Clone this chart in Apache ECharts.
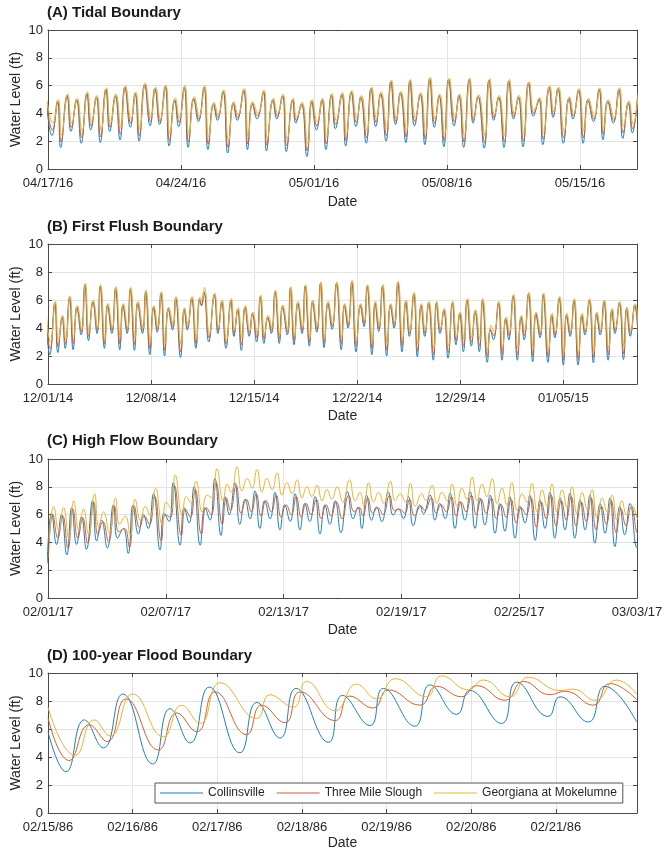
<!DOCTYPE html>
<html>
<head>
<meta charset="utf-8">
<script src="https://cdn.jsdelivr.net/npm/echarts@6/dist/echarts.min.js"></script>
<style>
html,body{margin:0;padding:0;background:#fff;}
#chart{width:665px;height:854px;}
</style>
</head>
<body>
<div id="chart"></div>
<script>
// ---------- stations ----------
const stations = ['Collinsville', 'Three Mile Slough', 'Georgiana at Mokelumne'];

// ---------- x tick labels (one per major tick) ----------
const ticksA = ['04/17/16', '04/24/16', '05/01/16', '05/08/16', '05/15/16'];
const ticksB = ['12/01/14', '12/08/14', '12/15/14', '12/22/14', '12/29/14', '01/05/15'];
const ticksC = ['02/01/17', '02/07/17', '02/13/17', '02/19/17', '02/25/17', '03/03/17'];
const ticksD = ['02/15/86', '02/16/86', '02/17/86', '02/18/86', '02/19/86', '02/20/86', '02/21/86'];

// ---------- (A) Tidal Boundary: tidal highs/lows, hours after 04/17/16 00:00 ----------
const hoursA = [
  -2, 5, 12, 16, 24, 29, 36, 42, 49, 54,
  61, 66, 73, 78, 85, 91, 97, 104, 110, 115,
  122, 129, 135, 141, 148, 153, 160, 165, 172, 177,
  184, 190, 197, 202, 209, 214, 221, 227, 234, 239,
  247, 252, 258, 264, 272, 276, 284, 289, 296, 301,
  309, 313, 320, 327, 333, 339, 346, 351, 358, 363,
  371, 376, 383, 389, 395, 402, 408, 414, 420, 427,
  433, 439, 445, 452, 457, 463, 470, 476, 482, 488,
  494, 500, 506, 513, 519, 525, 532, 537, 543, 551,
  557, 563, 569, 576, 582, 588, 594, 600, 607, 613,
  620, 625, 633, 638, 644, 651, 658, 663, 670, 676,
  682, 689, 696, 701, 707, 714, 721, 726, 733, 738,
  745];
const collinsvilleA = [
  4.8, 2.4, 4.9, 1.55, 5.3, 2.7, 5.0, 1.85, 5.45, 2.8,
  5.2, 1.9, 5.75, 2.7, 5.3, 2.1, 5.9, 3.0, 5.45, 2.0,
  6.1, 3.1, 5.8, 3.2, 5.95, 1.65, 5.0, 3.05, 5.9, 1.55,
  5.1, 3.4, 5.9, 1.4, 4.7, 3.5, 5.6, 1.15, 4.75, 3.5,
  5.7, 1.4, 4.75, 3.6, 5.6, 1.3, 5.0, 3.6, 5.3, 1.25,
  5.0, 3.3, 4.7, 0.9, 4.9, 2.8, 5.0, 1.4, 5.35, 2.9,
  5.4, 1.65, 5.55, 3.05, 5.2, 1.85, 5.8, 3.05, 5.45, 2.0,
  6.3, 3.2, 5.5, 1.9, 6.35, 3.1, 5.4, 1.75, 6.5, 3.0,
  5.3, 1.6, 6.45, 3.1, 5.3, 1.55, 6.45, 3.3, 5.25, 1.5,
  6.4, 3.5, 5.2, 1.55, 6.35, 3.6, 5.2, 1.6, 6.2, 3.8,
  5.05, 1.75, 5.9, 3.7, 5.8, 1.85, 5.1, 3.6, 5.7, 1.85,
  5.0, 3.4, 5.75, 2.1, 4.9, 3.3, 5.75, 2.2, 4.8, 2.6,
  5.5];
const threeMileA = [
  4.7, 2.8, 4.8, 1.95, 5.2, 3.0, 4.9, 2.25, 5.35, 3.1,
  5.1, 2.3, 5.65, 3.0, 5.2, 2.5, 5.8, 3.3, 5.35, 2.4,
  6.0, 3.4, 5.7, 3.4, 5.85, 2.05, 4.9, 3.35, 5.8, 1.95,
  5.0, 3.6, 5.8, 1.8, 4.6, 3.7, 5.5, 1.55, 4.65, 3.7,
  5.6, 1.8, 4.65, 3.8, 5.5, 1.7, 4.9, 3.8, 5.2, 1.65,
  4.9, 3.5, 4.6, 1.3, 4.8, 3.1, 4.9, 1.8, 5.25, 3.2,
  5.3, 2.05, 5.45, 3.35, 5.1, 2.25, 5.7, 3.35, 5.35, 2.4,
  6.2, 3.4, 5.4, 2.3, 6.25, 3.4, 5.3, 2.15, 6.4, 3.3,
  5.2, 2.0, 6.35, 3.4, 5.2, 1.95, 6.35, 3.5, 5.15, 1.9,
  6.3, 3.7, 5.1, 1.95, 6.25, 3.8, 5.1, 2.0, 6.1, 4.0,
  4.95, 2.15, 5.8, 3.9, 5.7, 2.25, 5.0, 3.8, 5.6, 2.25,
  4.9, 3.6, 5.65, 2.5, 4.8, 3.5, 5.65, 2.6, 4.7, 2.9,
  5.4];
const georgianaA = [
  4.9, 3.3, 5.0, 2.45, 5.4, 3.3, 5.1, 2.75, 5.55, 3.4,
  5.3, 2.8, 5.85, 3.3, 5.4, 3.0, 6.0, 3.6, 5.55, 2.9,
  6.2, 3.7, 5.9, 3.6, 6.05, 2.55, 5.1, 3.65, 6.0, 2.45,
  5.2, 3.8, 6.0, 2.3, 4.8, 3.9, 5.7, 2.05, 4.85, 3.9,
  5.8, 2.3, 4.85, 4.0, 5.7, 2.2, 5.1, 4.0, 5.4, 2.15,
  5.1, 3.7, 4.8, 1.8, 5.0, 3.4, 5.1, 2.3, 5.45, 3.5,
  5.5, 2.55, 5.65, 3.65, 5.3, 2.75, 5.9, 3.65, 5.55, 2.9,
  6.4, 3.6, 5.6, 2.8, 6.45, 3.7, 5.5, 2.65, 6.6, 3.6,
  5.4, 2.5, 6.55, 3.7, 5.4, 2.45, 6.55, 3.7, 5.35, 2.4,
  6.5, 3.9, 5.3, 2.45, 6.45, 4.0, 5.3, 2.5, 6.3, 4.2,
  5.15, 2.65, 6.0, 4.1, 5.9, 2.75, 5.2, 4.0, 5.8, 2.75,
  5.1, 3.8, 5.85, 3.0, 5.0, 3.7, 5.85, 3.1, 4.9, 3.2,
  5.6];
const lagA = [0, 0.5, 1];

// ---------- (B) First Flush Boundary: hours after 12/01/14 00:00 ----------
const hoursB = [
  -4, 3, 11, 16, 23, 28, 35, 41, 47, 54,
  60, 66, 73, 80, 85, 92, 97, 104, 110, 117,
  122, 129, 134, 141, 146, 154, 159, 166, 172, 178,
  184, 190, 196, 203, 208, 216, 222, 227, 234, 241,
  247, 250, 254, 262, 271, 277, 283, 290, 298, 303,
  309, 315, 321, 328, 333, 340, 346, 352, 358, 364,
  370, 377, 382, 390, 395, 401, 407, 414, 419, 426,
  431, 438, 444, 450, 456, 463, 470, 478, 483, 489,
  495, 502, 509, 515, 520, 528, 533, 539, 545, 552,
  558, 564, 570, 577, 583, 589, 596, 602, 608, 614,
  620, 628, 633, 639, 645, 652, 659, 665, 671, 677,
  683, 690, 696, 703, 708, 716, 721, 726, 734, 740,
  746, 751, 758, 765, 771, 776, 783, 790, 795, 802,
  807, 815, 821, 826, 833, 840, 845, 851, 857, 864,
  870, 875, 882, 889, 894, 900, 906, 913, 919, 924,
  931, 938, 943, 949, 956, 963];
const collinsvilleB = [
  5.0, 2.1, 5.8, 2.25, 4.8, 2.55, 6.2, 2.45, 5.5, 3.5,
  7.1, 3.1, 5.9, 3.6, 7.0, 2.55, 5.65, 3.6, 6.85, 2.45,
  5.65, 3.6, 6.8, 2.4, 5.8, 3.6, 6.6, 2.1, 5.5, 3.7,
  6.5, 2.0, 5.4, 3.85, 6.15, 1.9, 5.35, 3.85, 6.15, 2.55,
  6.1, 5.6, 6.6, 3.0, 6.4, 3.6, 5.9, 2.55, 6.0, 3.4,
  5.35, 2.4, 5.5, 3.4, 5.05, 3.0, 6.25, 2.9, 4.8, 3.6,
  6.6, 2.9, 5.55, 3.5, 6.85, 2.8, 5.8, 3.6, 7.0, 2.7,
  5.9, 3.7, 7.2, 2.6, 5.8, 3.9, 7.2, 2.45, 5.65, 4.0,
  7.3, 2.3, 5.65, 4.1, 7.0, 2.1, 5.8, 3.75, 7.0, 2.0,
  5.65, 4.0, 7.25, 2.3, 5.9, 3.4, 6.45, 1.95, 5.65, 3.4,
  5.8, 1.7, 5.8, 3.6, 5.3, 1.85, 5.8, 2.8, 5.05, 2.3,
  6.0, 2.7, 5.2, 2.3, 6.0, 1.55, 3.9, 3.15, 5.8, 1.7,
  4.7, 3.15, 6.3, 1.7, 4.8, 3.15, 6.45, 1.6, 5.05, 3.3,
  6.4, 1.55, 4.95, 3.3, 6.15, 1.35, 4.95, 3.4, 6.0, 1.35,
  4.95, 3.5, 6.0, 1.5, 5.05, 3.5, 5.9, 1.7, 5.3, 3.6,
  5.8, 1.75, 5.4, 3.4, 5.65, 2.1];
const threeMileB = [
  4.9, 2.5, 5.7, 2.65, 4.7, 2.85, 6.1, 2.85, 5.4, 3.7,
  7.0, 3.4, 5.8, 3.8, 6.9, 2.85, 5.55, 3.8, 6.75, 2.85,
  5.55, 3.8, 6.7, 2.8, 5.7, 3.8, 6.5, 2.5, 5.4, 3.9,
  6.4, 2.4, 5.3, 4.05, 6.05, 2.3, 5.25, 4.05, 6.05, 2.85,
  6.0, 5.6, 6.5, 3.3, 6.3, 3.8, 5.8, 2.85, 5.9, 3.6,
  5.25, 2.8, 5.4, 3.6, 4.95, 3.3, 6.15, 3.2, 4.7, 3.8,
  6.5, 3.2, 5.45, 3.7, 6.75, 3.1, 5.7, 3.8, 6.9, 3.0,
  5.8, 3.9, 7.1, 2.9, 5.7, 4.1, 7.1, 2.85, 5.55, 4.2,
  7.2, 2.7, 5.55, 4.3, 6.9, 2.5, 5.7, 3.95, 6.9, 2.4,
  5.55, 4.2, 7.15, 2.7, 5.8, 3.6, 6.35, 2.35, 5.55, 3.6,
  5.7, 2.1, 5.7, 3.8, 5.2, 2.25, 5.7, 3.1, 4.95, 2.7,
  5.9, 3.0, 5.1, 2.7, 5.9, 1.95, 3.9, 3.45, 5.7, 2.1,
  4.6, 3.45, 6.2, 2.1, 4.7, 3.45, 6.35, 2.0, 4.95, 3.5,
  6.3, 1.95, 4.85, 3.5, 6.05, 1.75, 4.85, 3.6, 5.9, 1.75,
  4.85, 3.7, 5.9, 1.9, 4.95, 3.7, 5.8, 2.1, 5.2, 3.8,
  5.7, 2.15, 5.3, 3.6, 5.55, 2.5];
const georgianaB = [
  5.1, 3.0, 5.9, 3.15, 4.9, 3.15, 6.3, 3.35, 5.6, 3.9,
  7.2, 3.7, 6.0, 4.0, 7.1, 3.15, 5.75, 4.0, 6.95, 3.35,
  5.75, 4.0, 6.9, 3.3, 5.9, 4.0, 6.7, 3.0, 5.6, 4.1,
  6.6, 2.9, 5.5, 4.25, 6.25, 2.8, 5.45, 4.25, 6.25, 3.15,
  6.2, 6.0, 6.9, 3.6, 6.5, 4.0, 6.0, 3.15, 6.1, 3.8,
  5.45, 3.3, 5.6, 3.8, 5.15, 3.6, 6.35, 3.5, 4.9, 4.0,
  6.7, 3.5, 5.65, 3.9, 6.95, 3.4, 5.9, 4.0, 7.1, 3.3,
  6.0, 4.1, 7.3, 3.2, 5.9, 4.3, 7.3, 3.35, 5.75, 4.4,
  7.4, 3.2, 5.75, 4.5, 7.1, 3.0, 5.9, 4.15, 7.1, 2.9,
  5.75, 4.4, 7.35, 3.2, 6.0, 3.8, 6.55, 2.85, 5.75, 3.8,
  5.9, 2.6, 5.9, 4.0, 5.4, 2.75, 5.9, 3.4, 5.15, 3.2,
  6.1, 3.3, 5.3, 3.2, 6.1, 2.45, 4.2, 3.75, 5.9, 2.6,
  4.8, 3.75, 6.4, 2.6, 4.9, 3.75, 6.55, 2.5, 5.15, 3.7,
  6.5, 2.45, 5.05, 3.7, 6.25, 2.25, 5.05, 3.8, 6.1, 2.25,
  5.05, 3.9, 6.1, 2.4, 5.15, 3.9, 6.0, 2.6, 5.4, 4.0,
  5.9, 2.65, 5.5, 3.8, 5.75, 3.0];
const lagB = [0, 0.5, 1];

// ---------- (C) High Flow Boundary: hours after 02/01/17 00:00 ----------
const hoursC = [
  -1,
  4.5, 10.5, 16.5, 23, 29, 35, 41, 47, 54.5, 59.5,
  65.5, 72.5, 80, 85, 92, 98, 104, 110.5, 116.5, 122.5,
  129, 137, 142, 148, 153, 161.5, 166.5, 172.5, 178.5, 186,
  192, 198, 204, 211.5, 216.5, 221.5, 228.5, 234.5, 241, 247,
  253, 259, 265, 271.5, 277.5, 283.5, 289.5, 296, 302, 308,
  314, 320, 326.5, 332.5, 338.5, 344.5, 351, 358, 366, 373,
  379, 383.5, 389.5, 395.5, 401.5, 408, 416, 422, 428, 434.5,
  440.5, 446.5, 454.5, 459, 467, 473, 479, 485.5, 491.5, 497.5,
  503.5, 509.5, 516, 522, 528, 534, 540.5, 546.5, 552.5, 558.5,
  564.5, 571, 577, 583, 589, 595.5, 601.5, 607.5, 613.5, 619.5,
  626, 632, 638, 644, 650.5, 656.5, 662.5, 668.5, 675, 681,
  687, 693, 699, 705, 711.5, 720, 726];
const collinsvilleC = [
  2.5,
  6.1, 3.85, 6.0, 3.1, 6.5, 3.85, 5.85, 3.5, 7.0, 4.1,
  5.6, 3.6, 6.7, 4.3, 5.0, 3.2, 6.7, 4.6, 6.0, 5.0,
  7.5, 3.45, 6.1, 5.5, 8.3, 3.8, 6.5, 5.4, 8.0, 3.8,
  6.5, 5.6, 8.6, 4.5, 7.3, 6.0, 8.3, 5.3, 7.1, 5.7,
  7.7, 5.0, 7.0, 5.7, 7.6, 4.9, 6.7, 5.5, 7.5, 4.9,
  6.8, 5.5, 7.3, 4.6, 6.7, 5.3, 7.0, 4.7, 7.65, 5.7,
  6.55, 5.0, 7.4, 5.6, 6.55, 5.5, 7.65, 5.95, 6.4, 5.7,
  7.3, 5.2, 6.7, 6.05, 7.4, 5.6, 6.8, 5.7, 7.55, 5.0,
  6.95, 5.6, 7.65, 5.0, 7.2, 5.25, 7.4, 4.65, 6.8, 4.8,
  7.3, 4.3, 6.6, 5.4, 7.4, 4.15, 7.05, 5.0, 7.6, 4.3,
  7.2, 4.9, 7.55, 4.3, 7.05, 4.9, 7.4, 3.95, 6.8, 4.65,
  7.2, 3.7, 6.6, 4.55, 6.8, 3.6, 5.5];
const threeMileC = [
  2.9,
  6.0, 4.3, 5.9, 3.55, 6.4, 4.3, 5.75, 3.95, 6.9, 4.55,
  5.5, 4.05, 6.6, 4.75, 5.0, 3.65, 6.6, 5.05, 5.9, 5.3,
  7.3, 4.1, 6.0, 5.8, 8.1, 4.5, 6.4, 5.8, 7.8, 4.6,
  6.5, 6.0, 8.3, 5.3, 7.2, 6.3, 8.1, 6.1, 7.1, 6.2,
  7.5, 5.9, 7.0, 6.2, 7.4, 5.8, 6.7, 6.0, 7.3, 5.8,
  6.8, 6.0, 7.1, 5.7, 6.7, 5.9, 6.9, 5.7, 7.4, 6.2,
  6.5, 5.9, 7.2, 6.1, 6.5, 6.0, 7.4, 6.3, 6.4, 6.1,
  7.1, 5.9, 6.6, 6.3, 7.2, 6.1, 6.7, 6.2, 7.3, 5.9,
  6.9, 6.2, 7.4, 6.0, 7.1, 6.1, 7.2, 5.7, 6.7, 5.8,
  7.1, 5.4, 6.5, 6.0, 7.2, 5.1, 6.9, 5.7, 7.4, 5.2,
  7.0, 5.6, 7.3, 5.2, 6.9, 5.5, 7.2, 4.9, 6.6, 5.3,
  7.0, 4.7, 6.4, 5.2, 6.6, 4.6, 5.6];
const georgianaC = [
  4.2,
  6.6, 4.85, 6.5, 4.3, 7.0, 4.9, 6.4, 4.6, 7.5, 5.1,
  6.2, 4.7, 7.2, 5.3, 5.9, 4.5, 7.1, 5.6, 6.6, 5.9,
  7.9, 5.3, 6.9, 6.4, 8.85, 6.0, 7.3, 6.8, 8.4, 6.2,
  7.4, 7.2, 9.3, 7.0, 8.2, 7.6, 9.45, 7.7, 8.6, 7.9,
  9.25, 7.6, 8.6, 7.8, 9.0, 7.4, 8.3, 7.5, 8.5, 7.2,
  8.0, 7.3, 8.1, 7.0, 7.8, 7.1, 8.0, 6.9, 8.5, 7.0,
  7.6, 6.6, 8.3, 6.9, 7.6, 6.8, 8.4, 7.0, 7.5, 6.9,
  8.25, 6.6, 7.5, 7.0, 8.1, 6.8, 7.6, 7.0, 8.2, 6.6,
  7.9, 7.1, 8.7, 7.0, 8.2, 7.3, 8.6, 6.8, 7.9, 6.7,
  8.3, 6.3, 7.5, 6.9, 8.25, 6.2, 7.8, 6.6, 8.2, 6.2,
  7.8, 6.5, 8.0, 6.1, 7.6, 6.4, 7.8, 5.8, 7.2, 6.2,
  7.4, 5.6, 7.0, 6.0, 6.6, 5.6, 6.3];
const lagC = [0, 1.5, 2.5];

// ---------- (D) 100-year Flood Boundary: hours after 02/15/86 00:00 ----------
const hoursCollinsvilleD = [0, 5.1, 10.3, 15.7, 21.2, 29.7, 34.6, 40.3, 45.7, 54.4, 59.2, 65.8, 70.3, 79.5,
  83.5, 91.3, 95.1, 104.0, 108.3, 115.9, 119.6, 128.6, 132.9, 141.8, 145.2, 153.2, 157.9, 166.9];
const collinsvilleD = [5.8, 2.95, 6.65, 4.65, 8.5, 3.5, 7.45, 5.0, 9.0, 4.3, 7.9, 5.35, 8.9, 5.05,
  8.4, 6.25, 8.9, 6.2, 9.15, 7.05, 8.75, 6.4, 9.35, 6.9, 8.3, 6.5, 9.05, 6.5];
const hoursThreeMileD = [0, 6.0, 11.7, 16.8, 22.1, 31.3, 36.5, 42.2, 47.4, 56.3, 60.6, 67.2, 71.5, 81.4,
  85.6, 92.2, 96.5, 105.5, 110.2, 117.3, 121.5, 129.6, 134.8, 142.3, 146.6, 154.6, 159.3, 166.9];
const threeMileD = [6.8, 3.75, 6.3, 5.1, 8.15, 4.5, 7.15, 5.8, 8.65, 5.6, 7.7, 6.45, 8.65, 6.6,
  8.35, 7.5, 8.8, 7.7, 9.05, 8.3, 9.1, 8.05, 9.4, 8.45, 8.7, 7.7, 9.25, 8.1];
const hoursGeorgianaD = [0, 7.7, 13.1, 17.6, 24.0, 32.7, 37.9, 43.1, 48.8, 59.2, 62.9, 69.6, 73.3, 81.4,
  87.5, 93.2, 98.4, 107.3, 111.6, 119.2, 123.4, 131.0, 136.2, 145.2, 148.9, 155.1, 161.2, 166.9];
const georgianaD = [7.55, 4.1, 6.65, 5.5, 8.5, 5.45, 7.7, 6.4, 9.3, 6.75, 8.45, 7.55, 9.4, 7.3,
  9.2, 8.15, 9.6, 8.3, 9.8, 8.8, 9.5, 8.3, 9.7, 8.75, 8.85, 8.05, 9.5, 8.5];

// ---------- layout / style ----------
const FONT = '"Liberation Sans", Arial, Helvetica, sans-serif';
const TEXT = '#262626';
const AXIS = '#4a4a4a';
const GRID = '#e4e4e4';
const COLORS = ['#1f7fbf', '#d4602f', '#e9b334'];

const panels = [
  { title: '(A) Tidal Boundary', titleTop: 5, top: 30, height: 139, max: 744, step: 168, ticks: ticksA, dateGap: 26,
    hours: [hoursA, hoursA, hoursA], values: [collinsvilleA, threeMileA, georgianaA], lag: lagA },
  { title: '(B) First Flush Boundary', titleTop: 219, top: 244, height: 140, max: 960, step: 168, ticks: ticksB, dateGap: 25,
    hours: [hoursB, hoursB, hoursB], values: [collinsvilleB, threeMileB, georgianaB], lag: lagB },
  { title: '(C) High Flow Boundary', titleTop: 433, top: 459, height: 139, max: 720, step: 144, ticks: ticksC, dateGap: 25,
    hours: [hoursC, hoursC, hoursC], values: [collinsvilleC, threeMileC, georgianaC], lag: lagC },
  { title: '(D) 100-year Flood Boundary', titleTop: 648, top: 673, height: 140, max: 167, step: 24, ticks: ticksD, dateGap: 23,
    hours: [hoursCollinsvilleD, hoursThreeMileD, hoursGeorgianaD], values: [collinsvilleD, threeMileD, georgianaD], lag: [0, 0, 0] }
];

const option = {
  animation: false,
  backgroundColor: '#ffffff',
  textStyle: { fontFamily: FONT },
  title: [],
  grid: [],
  xAxis: [],
  yAxis: [],
  series: [],
  legend: {
    data: stations,
    left: 155,
    top: 783,
    orient: 'horizontal',
    icon: 'rect',
    padding: [3, 6, 3, 5],
    itemGap: 12,
    itemWidth: 43,
    itemHeight: 1.2,
    backgroundColor: '#ffffff',
    borderColor: '#555555',
    borderWidth: 1,
    borderRadius: 0,
    textStyle: { fontSize: 12, color: TEXT, fontFamily: FONT, lineHeight: 14 },
    selectedMode: false
  }
};

panels.forEach((p, i) => {
  option.title.push({
    text: p.title, left: 47, top: p.titleTop, padding: 0,
    textStyle: { fontSize: 15, fontWeight: 'bold', color: '#1a1a1a', fontFamily: FONT }
  });
  option.grid.push({ left: 48, width: 589, top: p.top, height: p.height, outerBoundsMode: 'none' });

  const tickFmt = (v) => {
    const k = v / p.step;
    return (Number.isInteger(k) && p.ticks[k] !== undefined) ? p.ticks[k] : '';
  };
  // bottom x axis with labels
  option.xAxis.push({
    type: 'value', gridIndex: i, min: 0, max: p.max, interval: p.step, position: 'bottom',
    name: 'Date', nameLocation: 'middle', nameGap: p.dateGap, nameMoveOverlap: false,
    nameTextStyle: { fontSize: 14, color: TEXT, fontFamily: FONT },
    axisLine: { show: true, onZero: false, lineStyle: { color: AXIS, width: 1 } },
    axisTick: { show: true, inside: true, length: 4, lineStyle: { color: AXIS } },
    axisLabel: { show: true, margin: 8, fontSize: 13, color: TEXT, fontFamily: FONT, formatter: tickFmt, hideOverlap: false },
    splitLine: { show: true, lineStyle: { color: GRID, width: 1 } }
  });
  // top x axis (box edge + ticks)
  option.xAxis.push({
    type: 'value', gridIndex: i, min: 0, max: p.max, interval: p.step, position: 'top',
    axisLine: { show: true, onZero: false, lineStyle: { color: AXIS, width: 1 } },
    axisTick: { show: true, inside: true, length: 4, lineStyle: { color: AXIS } },
    axisLabel: { show: false },
    splitLine: { show: false }
  });
  // left y axis with labels
  option.yAxis.push({
    type: 'value', gridIndex: i, min: 0, max: 10, interval: 2, position: 'left',
    name: 'Water Level (ft)', nameLocation: 'middle', nameGap: 25, nameMoveOverlap: false,
    nameTextStyle: { fontSize: 14, color: TEXT, fontFamily: FONT },
    axisLine: { show: true, onZero: false, lineStyle: { color: AXIS, width: 1 } },
    axisTick: { show: true, inside: true, length: 4, lineStyle: { color: AXIS } },
    axisLabel: { show: true, margin: 5, fontSize: 13, color: TEXT, fontFamily: FONT },
    splitLine: { show: true, lineStyle: { color: GRID, width: 1 } }
  });
  // right y axis (box edge + ticks)
  option.yAxis.push({
    type: 'value', gridIndex: i, min: 0, max: 10, interval: 2, position: 'right',
    axisLine: { show: true, onZero: false, lineStyle: { color: AXIS, width: 1 } },
    axisTick: { show: true, inside: true, length: 4, lineStyle: { color: AXIS } },
    axisLabel: { show: false },
    splitLine: { show: false }
  });

  stations.forEach((name, s) => {
    const hrs = p.hours[s];
    const vals = p.values[s];
    option.series.push({
      type: 'line',
      name: name,
      xAxisIndex: 2 * i,
      yAxisIndex: 2 * i,
      data: hrs.map((h, k) => [h + p.lag[s], vals[k]]),
      smooth: 0.5,
      symbol: 'none',
      clip: true,
      color: COLORS[s],
      lineStyle: { color: COLORS[s], width: 1 },
      z: 2 + s
    });
  });
});

const chart = echarts.init(document.getElementById('chart'), null, { renderer: 'canvas', devicePixelRatio: 1 });
chart.setOption(option);
</script>
</body>
</html>
